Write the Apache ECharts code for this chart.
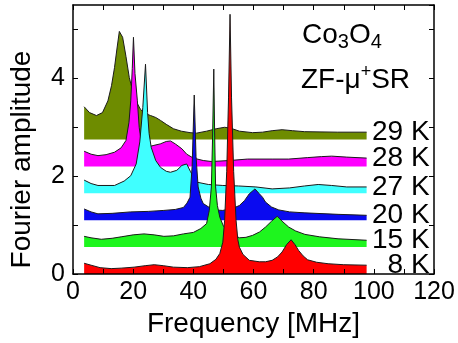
<!DOCTYPE html>
<html>
<head>
<meta charset="utf-8">
<script src="https://cdn.jsdelivr.net/npm/echarts@6/dist/echarts.min.js"></script>
<style>
html,body{margin:0;padding:0;background:#fff;}
#chart{width:458px;height:343px;}
</style>
</head>
<body>
<div id="chart"></div>
<script>
// spectra: [frequency MHz, amplitude]
const k8 = [[3.7,0.22],[6,0.18],[9,0.13],[12.7,0.11],[16,0.12],[20.3,0.14],[24,0.17],[27,0.19],[30,0.17],[33.4,0.14],[38,0.13],[42,0.15],[45.5,0.21],[47.5,0.3],[48.8,0.42],[49.8,0.65],[50.4,1.1],[51.1,2.1],[51.7,3.6],[52.2,5.31],[52.7,3.6],[53.4,2.1],[54.2,1.1],[54.8,0.7],[55.3,0.55],[56.5,0.4],[58.6,0.28],[61.9,0.25],[64,0.25],[66.2,0.28],[68,0.35],[69.5,0.45],[71,0.6],[72.5,0.7],[73.8,0.6],[75,0.48],[76.5,0.37],[78,0.29],[81,0.24],[84.8,0.21],[90,0.19],[97.6,0.18]]
const k15 = [[3.7,0.77],[6,0.74],[9.4,0.71],[13,0.73],[16,0.76],[20,0.8],[23.6,0.82],[27,0.8],[30.2,0.77],[33.4,0.78],[36.7,0.82],[40,0.85],[42.5,0.93],[44.4,1.03],[45.3,1.3],[46,1.78],[46.4,2.8],[46.8,4.19],[47.1,2.8],[47.4,1.78],[48,1.4],[48.8,1.16],[50,0.98],[52,0.85],[55.3,0.74],[57.5,0.75],[59.7,0.79],[62,0.86],[64,0.96],[66,1.08],[67.9,1.18],[69.5,1.08],[71.7,0.96],[74,0.88],[77.1,0.81],[82,0.76],[88.1,0.72],[97.6,0.69]]
const k20 = [[3.7,1.33],[6,1.27],[8.3,1.23],[13,1.24],[19.2,1.27],[25,1.28],[30.2,1.3],[34,1.32],[36.7,1.36],[37.9,1.45],[38.9,1.57],[39.6,2.2],[40.3,3.66],[40.9,2.4],[41.6,1.78],[42.5,1.55],[43.3,1.44],[46.6,1.31],[49.8,1.3],[53,1.34],[55.3,1.4],[57,1.5],[58.6,1.64],[60.5,1.74],[61.8,1.65],[63,1.57],[64,1.47],[66,1.37],[68.4,1.31],[72,1.27],[77.1,1.25],[88.1,1.22],[97.6,1.2]]
const k27 = [[3.7,1.92],[6,1.85],[8.3,1.81],[13.8,1.81],[17,1.9],[19.2,2.01],[21,2.25],[22.2,2.7],[23.2,3.4],[24.1,4.29],[24.8,3.3],[25.3,2.87],[26,2.59],[27.5,2.32],[29.1,2.18],[31,2.1],[32.4,2.08],[34.5,2.12],[36.2,2.22],[37.8,2.25],[39,2.1],[41,1.88],[45,1.83],[49.8,1.81],[55,1.8],[60.8,1.78],[66.2,1.74],[72,1.76],[77,1.8],[81.5,1.83],[86,1.81],[91,1.78],[97.6,1.78]]
const k28 = [[3.7,2.51],[6,2.45],[8.3,2.42],[11,2.44],[13.8,2.49],[16,2.58],[17.6,2.73],[18.6,3.1],[19.2,3.54],[19.7,4.2],[20.1,4.84],[20.6,4.1],[21.4,3.54],[22,3.0],[22.5,2.78],[23.6,2.6],[25,2.6],[26.9,2.63],[29,2.66],[31,2.71],[32.4,2.72],[34,2.66],[36.2,2.56],[37.8,2.45],[40,2.37],[43.3,2.32],[46,2.3],[52,2.32],[58,2.35],[66.2,2.35],[71.7,2.35],[78,2.38],[82.6,2.4],[86,2.41],[91,2.39],[97.6,2.37]]
const k29 = [[3.7,3.42],[5.5,3.3],[7.8,3.24],[9.8,3.3],[11.6,3.54],[12.8,3.85],[13.8,4.22],[14.6,4.6],[15.4,4.96],[16.5,4.84],[17.6,4.45],[18.7,4.02],[19.8,3.75],[20.9,3.54],[22.5,3.36],[24,3.28],[25.8,3.24],[27.5,3.2],[29.1,3.14],[31,3.06],[33.4,2.97],[36,2.92],[38.9,2.89],[41,2.88],[44.4,2.92],[47.6,2.97],[50.4,3.0],[52.5,2.98],[55.3,2.92],[59.7,2.89],[63,2.9],[66.2,2.93],[69.5,2.95],[73,2.93],[77,2.91],[88,2.9],[97.6,2.9]]

const spectra = [k29, k28, k27, k20, k15, k8]
const temps = ['29 K', '28 K', '27 K', '20 K', '15 K', '8 K']
const offsets = [2.75, 2.2, 1.65, 1.1, 0.55, 0]
const colors = ['#6e8c00', '#ff00ff', '#40ffff', '#0a0af0', '#1ef51e', '#ff0000']

const font = 'Liberation Sans, Arial, sans-serif'

let chart = echarts.init(document.getElementById('chart'))

let series = spectra.map((d, i) => ({
    type: 'line',
    data: d,
    z: 2 + i,
    showSymbol: false,
    silent: true,
    lineStyle: { color: '#1a1a1a', width: 1 },
    areaStyle: { color: colors[i], opacity: 1, origin: offsets[i] },
    endLabel: {
        show: true,
        formatter: temps[i],
        color: '#000',
        fontSize: 28,
        fontFamily: font,
        align: 'right',
        distance: 0,
        offset: [63, 0]
    }
}))

function axisBase(pos) {
    return {
        type: 'value',
        position: pos,
        z: 20,
        axisLine: { show: true, onZero: false, lineStyle: { color: '#000', width: 1.5 } },
        axisTick: { show: true, inside: true, length: 5, lineStyle: { color: '#000', width: 1 } },
        splitLine: { show: false }
    }
}

let option = {
    animation: false,
    textStyle: { fontFamily: font },
    grid: { left: 68, right: 24, top: 5, bottom: 69 },
    xAxis: [
        Object.assign(axisBase('bottom'), {
            min: 0, max: 120, interval: 10,
            name: 'Frequency [MHz]',
            nameLocation: 'middle',
            nameGap: 36,
            nameTextStyle: { fontSize: 28, color: '#000' },
            axisLabel: {
                color: '#000', fontSize: 25, margin: 6,
                formatter: v => (v % 20 === 0 ? v : '')
            }
        }),
        Object.assign(axisBase('top'), {
            min: 0, max: 120, interval: 10,
            axisLabel: { show: false }
        })
    ],
    yAxis: [
        Object.assign(axisBase('left'), {
            min: 0, max: 5.5, interval: 1,
            name: 'Fourier amplitude',
            nameLocation: 'middle',
            nameGap: 37,
            nameTextStyle: { fontSize: 28, color: '#000', padding: [0, 40, 0, 0] },
            axisLabel: {
                color: '#000', fontSize: 25, margin: 8, showMaxLabel: false,
                formatter: v => (v % 2 === 0 && v <= 4 ? v : '')
            }
        }),
        Object.assign(axisBase('right'), {
            min: 0, max: 5.5, interval: 1,
            axisLabel: { show: false }
        })
    ],
    graphic: [
        {
            type: 'text', left: 302, top: 21, z: 30,
            style: {
                text: '{a|Co}{s|3}{a|O}{s|4}',
                rich: {
                    a: { fontSize: 28, lineHeight: 34, fontFamily: font, fill: '#000' },
                    s: { fontSize: 20, lineHeight: 20, verticalAlign: 'bottom', fontFamily: font, fill: '#000' }
                }
            }
        },
        {
            type: 'text', left: 301, top: 63, z: 30,
            style: {
                text: '{a|ZF-\u03bc}{p|+}{a|SR}',
                rich: {
                    a: { fontSize: 28, lineHeight: 34, fontFamily: font, fill: '#000' },
                    p: { fontSize: 18, lineHeight: 28, verticalAlign: 'top', fontFamily: font, fill: '#000' }
                }
            }
        }
    ],
    series: series
}

chart.setOption(option)
</script>
</body>
</html>
